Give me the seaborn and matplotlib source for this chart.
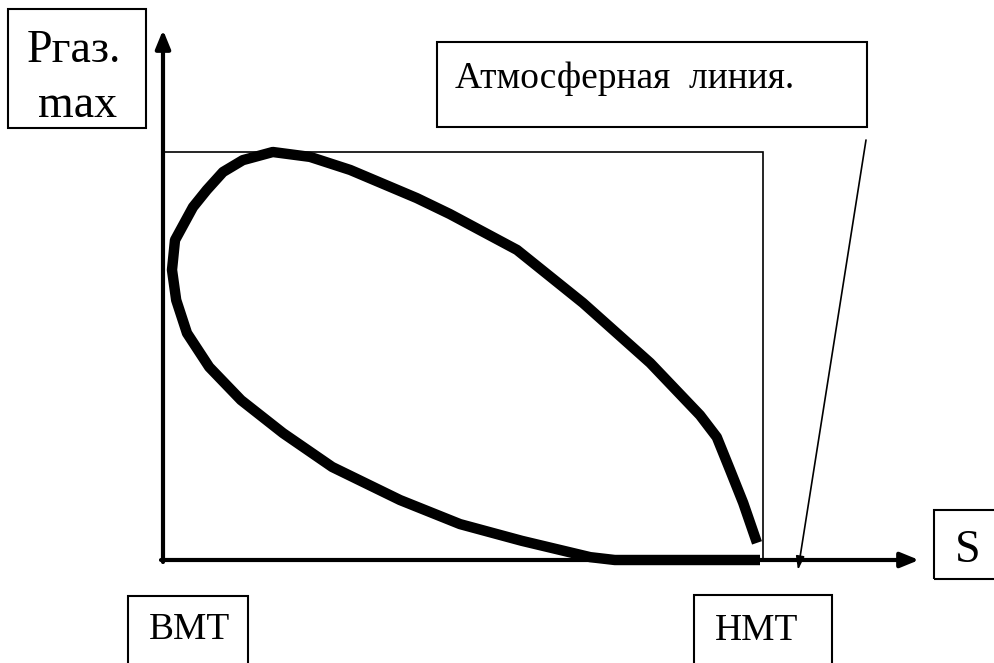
import numpy as np
import pandas as pd
import matplotlib.pyplot as plt
import seaborn as sns
from matplotlib.patches import Rectangle

# индикаторная диаграмма: ход поршня S (0 = ВМТ, 1 = НМТ), давление газа (1 = Ргаз.max)
s_vals = [0.990, 0.967, 0.945, 0.923, 0.895, 0.812, 0.700, 0.590, 0.478, 0.423,
          0.312, 0.245, 0.183, 0.133, 0.100, 0.073, 0.050, 0.020, 0.015, 0.022,
          0.040, 0.077, 0.130, 0.200, 0.282, 0.395, 0.495, 0.598, 0.712, 0.753,
          0.995]
p_vals = [0.042, 0.140, 0.221, 0.301, 0.355, 0.483, 0.630, 0.760, 0.848, 0.887,
          0.956, 0.988, 1.000, 0.980, 0.951, 0.907, 0.865, 0.784, 0.711, 0.637,
          0.556, 0.473, 0.392, 0.311, 0.228, 0.147, 0.088, 0.047, 0.007, 0.000,
          0.000]

label_p = ["Ргаз.", "max"]
label_s = "S"
label_bmt = "ВМТ"
label_nmt = "НМТ"
label_atm = "Атмосферная  линия."

df = pd.DataFrame({"S": s_vals, "P": p_vals})

sns.set_style("white")
plt.rcParams['font.family'] = ['Liberation Serif', 'DejaVu Serif']

fig = plt.figure(figsize=(9.95, 6.63), dpi=100)
ax = fig.add_axes([0, 0, 1, 1])

# пиксели -> данные
X0, Y0, SX, SY = 163, 560, 600, 408
def px(x, y):
    return (x - X0) / SX, (Y0 - y) / SY

ax.set_xlim(px(0, 0)[0], px(995, 0)[0])
ax.set_ylim(px(0, 663)[1], px(0, 0)[1])
ax.axis("off")

# тонкий прямоугольник
ax.add_patch(Rectangle((0, 0), 1, 1, fill=False, lw=1.2, ec="black"))

# оси со стрелками
ax.annotate("", xy=px(163, 30), xytext=px(163, 562),
            arrowprops=dict(arrowstyle="-|>,head_length=1.1,head_width=0.45",
                            lw=3, color="black", shrinkA=0, shrinkB=0))
ax.annotate("", xy=px(919, 560), xytext=px(161, 560),
            arrowprops=dict(arrowstyle="-|>,head_length=1.1,head_width=0.45",
                            lw=3, color="black", shrinkA=0, shrinkB=0))

# кривая
sns.lineplot(data=df, x="S", y="P", sort=False, estimator=None, color="black",
             lw=7.5, ax=ax, solid_capstyle="butt", solid_joinstyle="round")

# атмосферная линия - стрелка
ax.annotate("", xy=px(798, 570), xytext=px(866, 140),
            arrowprops=dict(arrowstyle="-|>,head_length=0.8,head_width=0.25",
                            lw=1.2, color="black", shrinkA=0, shrinkB=0))

def box(x1, y1, x2, y2):
    a = px(x1, y2)
    b = px(x2, y1)
    ax.add_patch(Rectangle(a, b[0] - a[0], b[1] - a[1], fill=False, lw=1.5,
                           ec="black", clip_on=False))

def label(text, x, y, size):
    ax.text(*px(x, y), text, ha="left", va="baseline", fontsize=size,
            color="black")

box(8, 9, 146, 128)
label(label_p[0], 27, 62, 33)
label(label_p[1], 38, 117, 33)

box(437, 42, 867, 127)
label(label_atm, 455, 88, 27)

box(934, 510, 1000, 579)
label(label_s, 955, 562, 33)

box(694, 595, 832, 670)
label(label_nmt, 715, 640, 27)

box(128, 596, 248, 670)
label(label_bmt, 149, 639, 27)

fig.savefig("out.png", dpi=100)
